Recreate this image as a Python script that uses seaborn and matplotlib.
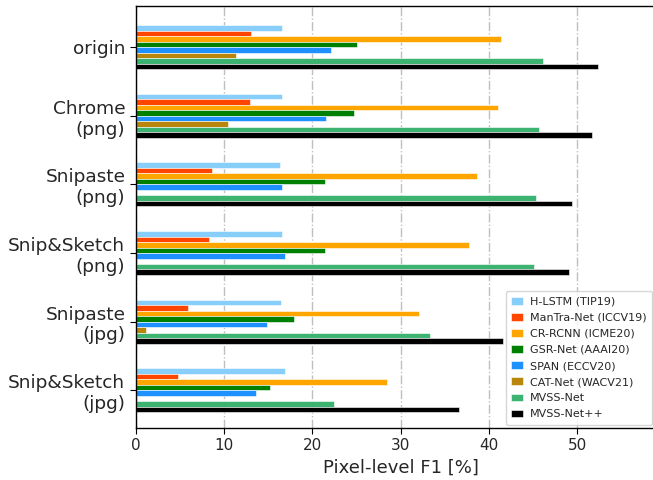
import matplotlib
matplotlib.use("Agg")
import matplotlib.pyplot as plt
import seaborn as sns
import pandas as pd

categories = ["origin", "Chrome\n(png)", "Snipaste\n(png)", "Snip&Sketch\n(png)",
              "Snipaste\n(jpg)", "Snip&Sketch\n(jpg)"]
methods = ["H-LSTM (TIP19)", "ManTra-Net (ICCV19)", "CR-RCNN (ICME20)", "GSR-Net (AAAI20)",
           "SPAN (ECCV20)", "CAT-Net (WACV21)", "MVSS-Net", "MVSS-Net++"]

hlstm = [16.6, 16.6, 16.3, 16.6, 16.5, 16.9]
mantra = [13.0, 12.9, 8.6, 8.3, 5.9, 4.8]
crrcnn = [41.3, 41.0, 38.6, 37.7, 32.1, 28.4]
gsrnet = [25.1, 24.7, 21.4, 21.4, 17.9, 15.2]
span = [22.1, 21.5, 16.6, 16.9, 14.9, 13.6]
catnet = [11.4, 10.5, 0.2, 0.2, 1.2, 0.2]
mvss = [46.1, 45.7, 45.3, 45.1, 33.3, 22.5]
mvsspp = [52.3, 51.7, 49.4, 49.1, 41.6, 36.6]

series = [hlstm, mantra, crrcnn, gsrnet, span, catnet, mvss, mvsspp]
colors = ["#87CEFA", "#FF4500", "#FFA500", "#008000", "#1E90FF", "#B8860B", "#3CB371", "#000000"]

rows = []
for m, vals in zip(methods, series):
    for c, v in zip(categories, vals):
        rows.append({"cat": c, "method": m, "f1": v})
df = pd.DataFrame(rows)

sns.set_style("white")
plt.rcParams["font.family"] = ["DejaVu Sans"]

fig = plt.figure(figsize=(6.53, 4.8), dpi=100)
ax = fig.add_axes([135.7 / 653, 52 / 480, 530 / 653, 422 / 480])

sns.barplot(data=df, y="cat", x="f1", hue="method", order=categories, hue_order=methods,
            palette=colors, orient="h", width=0.64, edgecolor="white", linewidth=0.4,
            saturation=1, ax=ax, errorbar=None)

ax.set_xlim(0, 60)
ax.set_ylim(5.55, -0.6)
ax.set_xticks([0, 10, 20, 30, 40, 50])
ax.xaxis.grid(True, linestyle="-.", color="#b0b0b0", linewidth=1.0, alpha=0.8)
ax.yaxis.grid(False)
ax.set_axisbelow(True)
for s in ["left", "top", "bottom", "right"]:
    ax.spines[s].set_visible(True)
    ax.spines[s].set_color("black")
    ax.spines[s].set_linewidth(1.0)
ax.tick_params(axis="y", labelsize=13.3, length=4, width=0.8, left=True, color="black")
ax.tick_params(axis="x", labelsize=11, length=4, width=0.8, bottom=True, color="black")
ax.set_ylabel("")
ax.set_xlabel("Pixel-level F1 [%]", fontsize=13)
for lab in ax.get_yticklabels():
    lab.set_horizontalalignment("right")
    lab.set_multialignment("right")

leg = ax.legend(loc="lower right", bbox_to_anchor=(652 / 653, 55 / 480),
                bbox_transform=fig.transFigure, fontsize=8, frameon=True,
                handlelength=1.0, handleheight=0.7, labelspacing=0.55, borderpad=0.5,
                handletextpad=0.65, borderaxespad=0.0)
leg.get_frame().set_edgecolor("#cccccc")

fig.savefig("out.png", dpi=100)
